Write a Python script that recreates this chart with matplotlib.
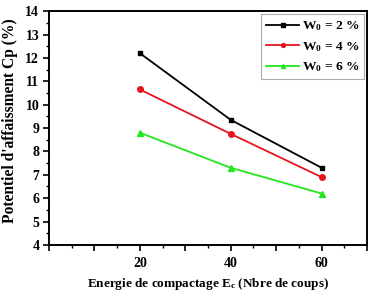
import matplotlib
matplotlib.use("Agg")
import matplotlib.pyplot as plt
from matplotlib.ticker import MultipleLocator, FixedFormatter, FixedLocator

energy = [20, 40, 60]
cp_w2 = [12.2, 9.35, 7.3]
cp_w4 = [10.65, 8.75, 6.9]
cp_w6 = [8.8, 7.3, 6.2]
labels = [r"W$_0$ = 2 %", r"W$_0$ = 4 %", r"W$_0$ = 6 %"]

plt.rcParams['font.family'] = ['Liberation Serif', 'DejaVu Serif']
plt.rcParams['font.weight'] = 'bold'
plt.rcParams['mathtext.fontset'] = 'custom'
plt.rcParams['mathtext.rm'] = 'Liberation Serif:bold'
plt.rcParams['mathtext.it'] = 'Liberation Serif:bold'
plt.rcParams['mathtext.bf'] = 'Liberation Serif:bold'

fig = plt.figure(figsize=(3.7, 2.93), dpi=100)
ax = fig.add_axes([0.1324, 0.164, 0.8596, 0.798])

ax.plot(energy, cp_w2, color='black', marker='s', ms=3.5, lw=1.3, label=labels[0])
ax.plot(energy, cp_w4, color='#e8141c', marker='o', ms=4, lw=1.3, label=labels[1])
ax.plot(energy, cp_w6, color='#22e61e', marker='^', ms=4, lw=1.3, label=labels[2])

ax.set_xlim(0, 70)
ax.set_ylim(4, 14)
ax.xaxis.set_major_locator(FixedLocator([0, 10, 20, 30, 40, 50, 60, 70]))
ax.xaxis.set_major_formatter(FixedFormatter(['', '', '20', '', '40', '', '60', '']))
ax.xaxis.set_minor_locator(MultipleLocator(5))
ax.yaxis.set_major_locator(MultipleLocator(1))
ax.yaxis.set_minor_locator(MultipleLocator(0.5))
ax.tick_params(axis='both', which='major', labelsize=10, length=4, width=1.2, direction='out', pad=3)
ax.tick_params(axis='x', which='major', pad=5)
ax.tick_params(axis='both', which='minor', length=2.5, width=1.0, direction='out')
for s in ax.spines.values():
    s.set_linewidth(1.4)

ax.set_xlabel(r"Energie de compactage E$_c$ (Nbre de coups)", fontsize=9.5, fontweight='bold', labelpad=4)
ax.set_ylabel("Potentiel d'affaissment Cp (%)", fontsize=11.2, fontweight='bold')
ax.yaxis.set_label_coords(-0.097, 0.53)

leg = ax.legend(loc='upper right', fontsize=9.7, frameon=True, fancybox=False,
                edgecolor='#999999', handlelength=2.4, borderpad=0.4, labelspacing=0.5,
                handletextpad=0.2, borderaxespad=0.2, markerscale=0.7)
leg.get_frame().set_linewidth(0.8)
for t in leg.get_texts():
    t.set_fontweight('bold')

fig.savefig("out.png", dpi=100)
